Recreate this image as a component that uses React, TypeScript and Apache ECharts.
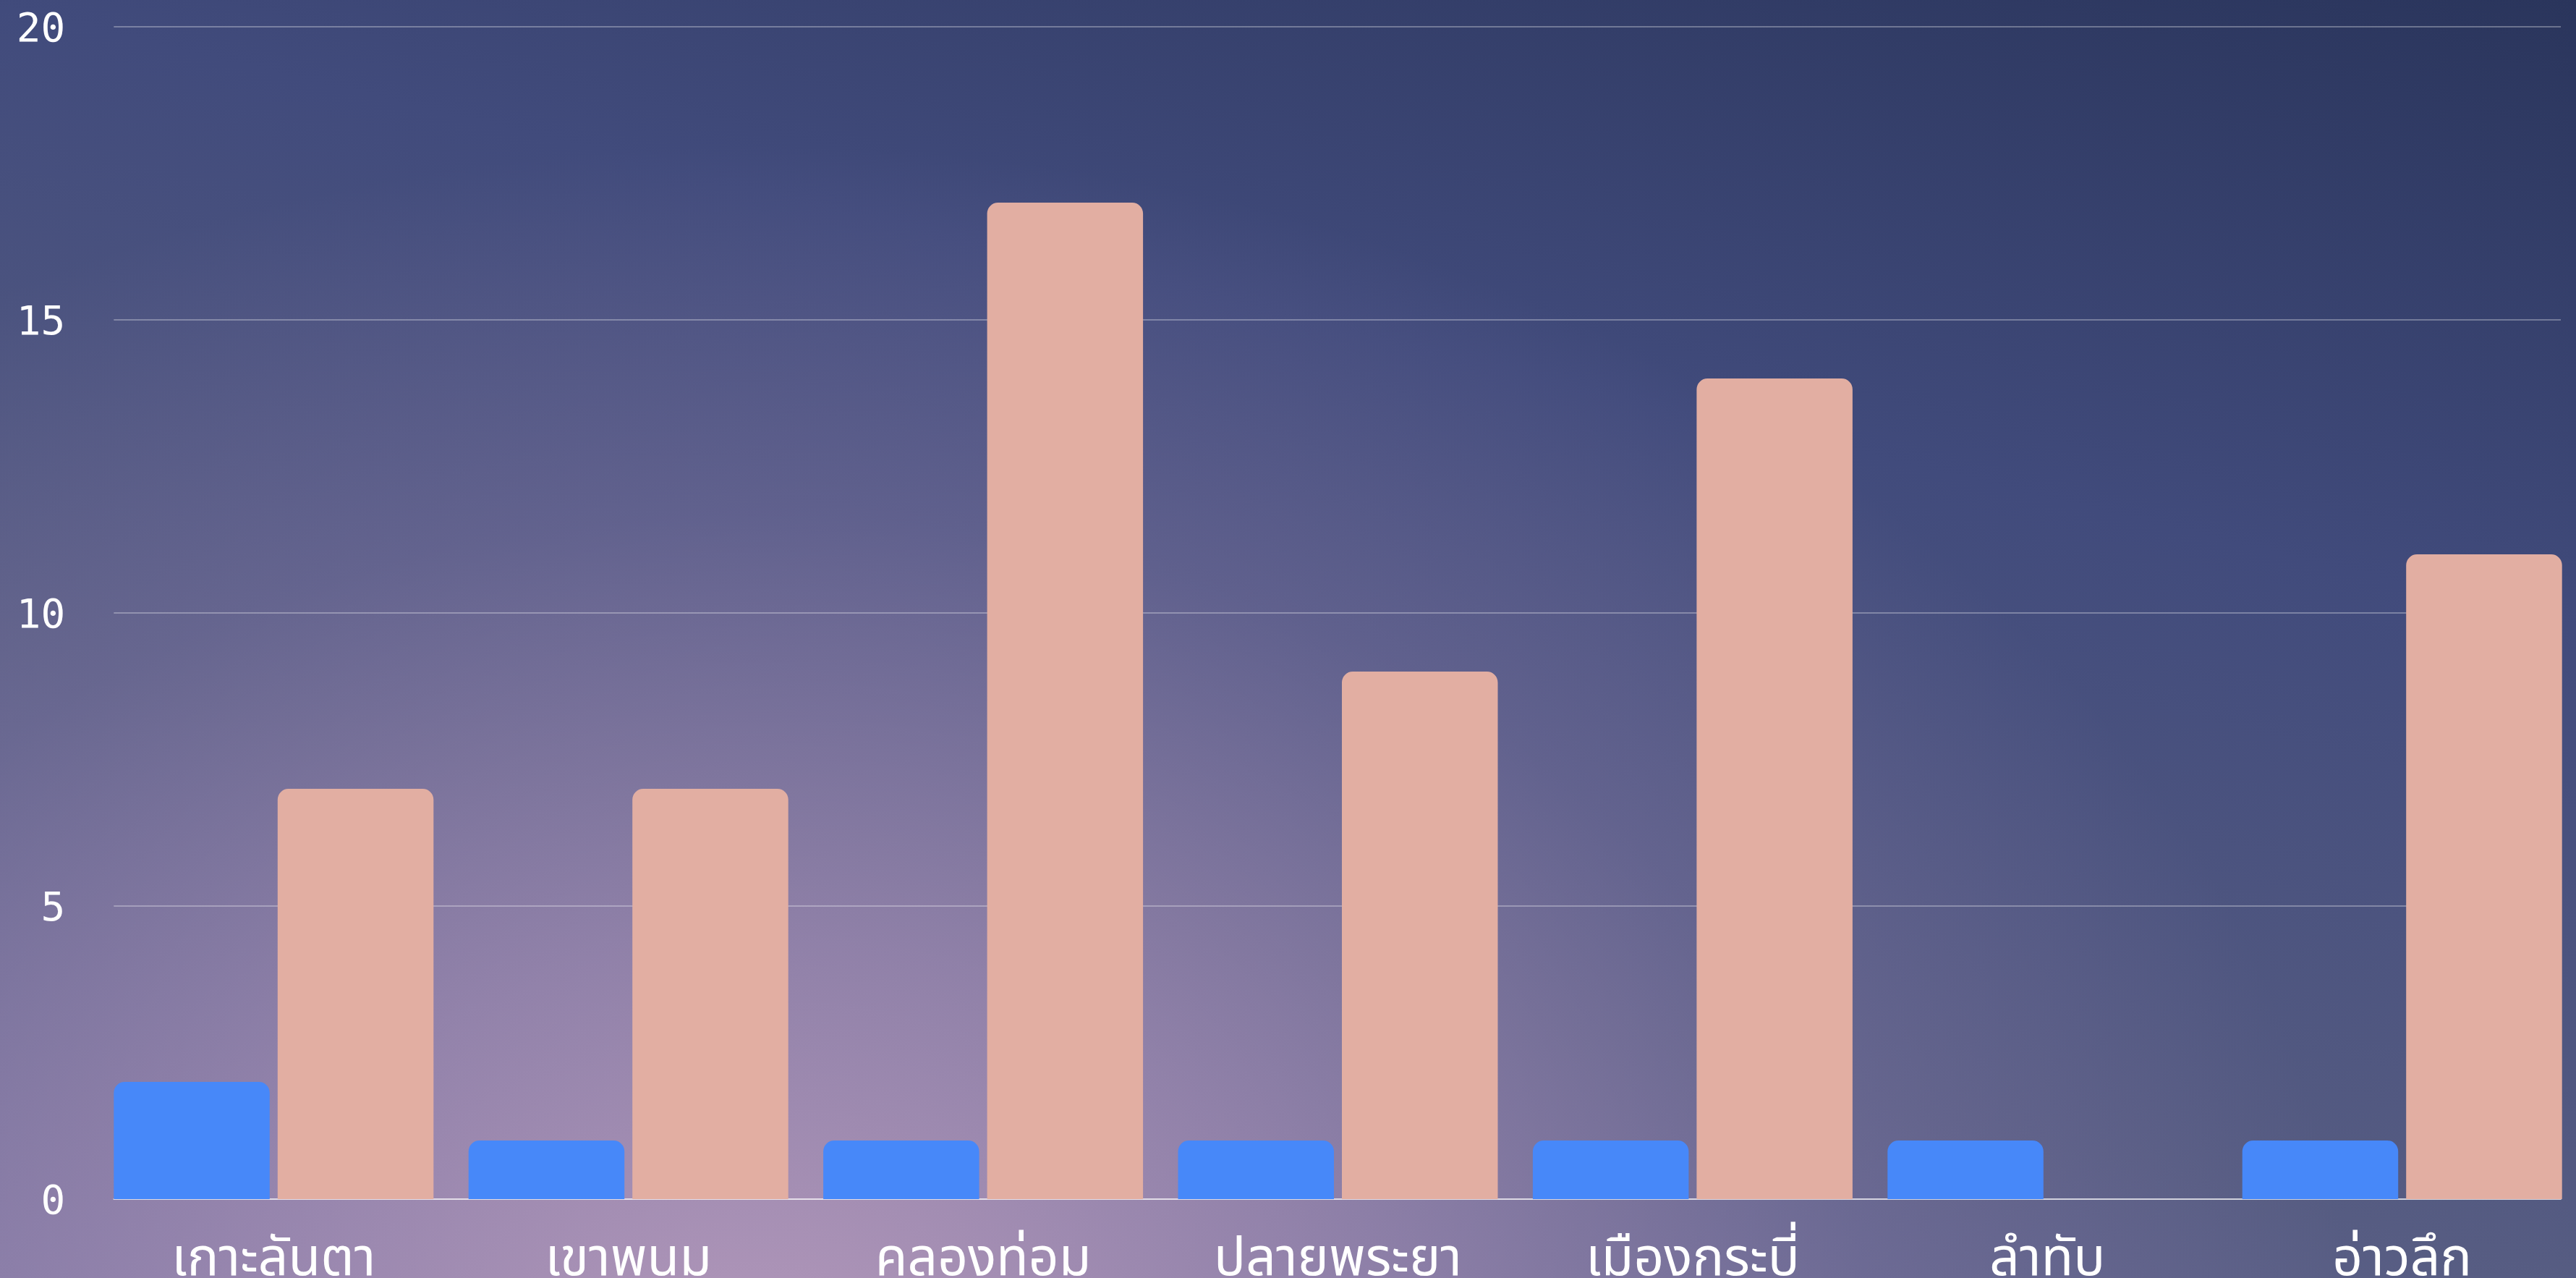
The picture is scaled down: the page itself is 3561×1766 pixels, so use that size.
import React, { useEffect, useRef } from "react";
import * as echarts from "echarts";

const categories = ["เกาะลันตา", "เขาพนม", "คลองท่อม", "ปลายพระยา", "เมืองกระบี่", "ลำทับ", "อ่าวลึก"];
const blueValues = [2, 1, 1, 1, 1, 1, 1];
const pinkValues = [7, 7, 17, 9, 14, 0, 11];
const yMin = 0;
const yMax = 20;
const yInterval = 5;

const W = 3561;
const H = 1766;

export default function App() {
  const ref = useRef<HTMLDivElement>(null);
  useEffect(() => {
    document.body.style.margin = "0";
    const chart = echarts.init(ref.current!, null, { renderer: "svg" });
    const plotLeft = 157.3;
    const plotRight = 3540;
    const plotTop = 37;
    const plotBottom = 1657;
    const band = 490.4;
    const barLeft = plotLeft - 24.2;
    chart.setOption({
      animation: false,
      backgroundColor: "transparent",
      grid: [
        {
          left: barLeft,
          top: plotTop,
          width: band * categories.length,
          height: plotBottom - plotTop,
          containLabel: false,
          outerBoundsMode: "none",
        },
        {
          left: plotLeft,
          top: plotTop,
          width: plotRight - plotLeft,
          height: plotBottom - plotTop,
          containLabel: false,
          outerBoundsMode: "none",
        },
      ],
      xAxis: [
        {
          type: "category",
          gridIndex: 0,
          data: categories,
          axisLine: { show: false },
          axisTick: { show: false },
          axisLabel: {
            color: "#ffffff",
            fontSize: 73,
            margin: 46,
            fontFamily: "'Noto Sans Thai', 'Noto Sans', sans-serif",
            interval: 0,
          },
        },
        {
          type: "value",
          gridIndex: 1,
          min: 0,
          max: 1,
          axisLine: { show: true, onZero: false, lineStyle: { color: "rgba(255,255,255,0.6)", width: 2 } },
          axisTick: { show: false },
          axisLabel: { show: false },
          splitLine: { show: false },
        },
      ],
      yAxis: [
        { type: "value", gridIndex: 0, min: yMin, max: yMax, interval: yInterval, show: false },
        {
          type: "value",
          gridIndex: 1,
          min: yMin,
          max: yMax,
          interval: yInterval,
          axisLine: { show: false },
          axisTick: { show: false },
          axisLabel: {
            color: "#ffffff",
            fontSize: 56,
            margin: 67,
            fontFamily: "'DejaVu Sans Mono', monospace",
          },
          splitLine: { show: true, lineStyle: { color: "rgba(255,255,255,0.3)", width: 2 } },
        },
      ],
      series: [
        {
          type: "bar",
          xAxisIndex: 0,
          yAxisIndex: 0,
          data: blueValues,
          barWidth: 215.5,
          barGap: "5.1%",
          itemStyle: { color: "#4788f9", borderRadius: [15, 15, 0, 0] },
          z: 3,
        },
        {
          type: "bar",
          xAxisIndex: 0,
          yAxisIndex: 0,
          data: pinkValues,
          barWidth: 215.5,
          barGap: "5.1%",
          itemStyle: { color: "#e2aea2", borderRadius: [15, 15, 0, 0] },
          z: 3,
        },
      ],
    });
    return () => chart.dispose();
  }, []);
  return (
    <div
      ref={ref}
      style={{
        position: "fixed",
        left: 0,
        top: 0,
        width: W + "px",
        height: H + "px",
        background:
          "radial-gradient(ellipse 2200px 1700px at 1050px 1900px, rgba(182,154,188,0.95) 0%, rgba(165,142,182,0.72) 35%, rgba(140,125,172,0.32) 70%, rgba(120,115,160,0) 100%), linear-gradient(193.5deg, #2a355c 0%, #414b7c 33%, #565c82 67%, #716f9a 100%)",
      }}
    />
  );
}
